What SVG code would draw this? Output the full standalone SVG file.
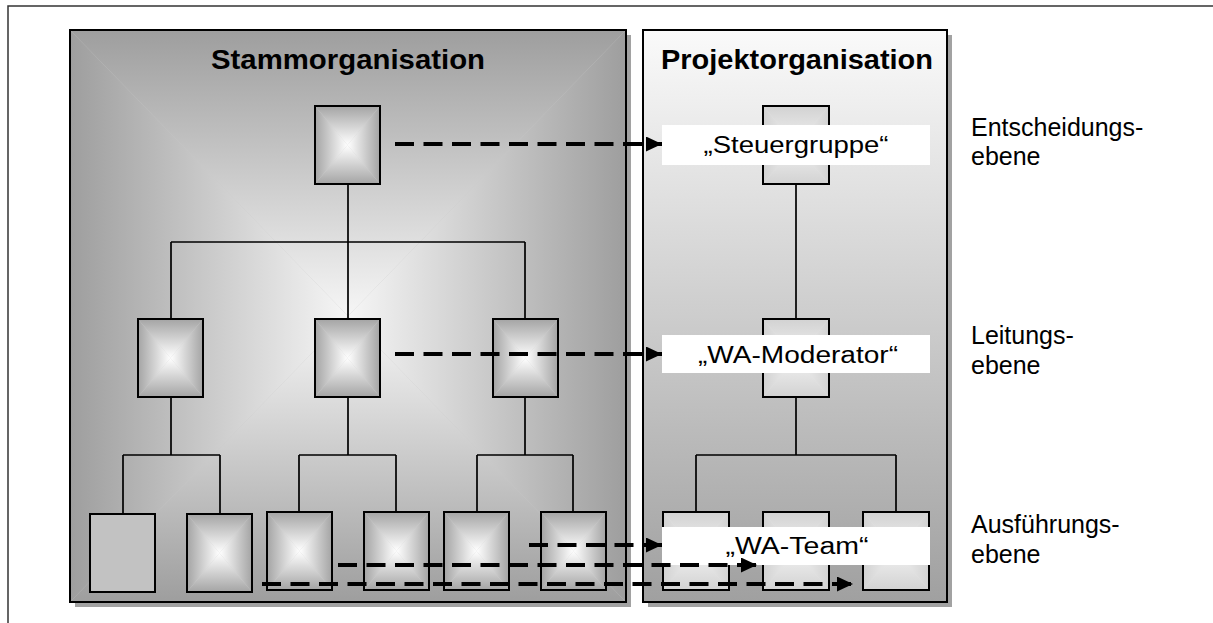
<svg xmlns="http://www.w3.org/2000/svg" xmlns:xlink="http://www.w3.org/1999/xlink" width="1213" height="623" viewBox="0 0 1213 623">
  <style>
    .frame { fill: none; stroke: #333; stroke-width: 1.5; }
    .shadow { fill: #a2a2a2; }
    .panel { fill: none; stroke: #000; stroke-width: 2; }
    .nb { fill: none; stroke: #000; stroke-width: 2; }
    .tree { fill: none; stroke: #000; stroke-width: 1.7; }
    .flow { fill: none; stroke: #000; stroke-width: 4; stroke-dasharray: 19 9.5; marker-end: url(#head); }
    .title { font-family: "Liberation Sans", Arial, sans-serif; font-weight: bold; font-size: 28px; fill: #000; text-anchor: middle; }
    .tag { fill: #fff; }
    .tagtext { font-family: "Liberation Sans", Arial, sans-serif; font-size: 23px; fill: #000; text-anchor: middle; }
    .level { font-family: "Liberation Sans", Arial, sans-serif; font-size: 25px; fill: #000; }
  </style>
  <defs>
    <!-- four-sided "from centre" shading: edge colour at the border, light at the middle -->
    <linearGradient id="bT" x1="0" y1="0" x2="0" y2="1"><stop offset="0" stop-color="#a4a4a4"/><stop offset="1" stop-color="#ffffff"/></linearGradient>
    <linearGradient id="bB" x1="0" y1="1" x2="0" y2="0"><stop offset="0" stop-color="#a4a4a4"/><stop offset="1" stop-color="#ffffff"/></linearGradient>
    <linearGradient id="bL" x1="0" y1="0" x2="1" y2="0"><stop offset="0" stop-color="#a4a4a4"/><stop offset="1" stop-color="#ffffff"/></linearGradient>
    <linearGradient id="bR" x1="1" y1="0" x2="0" y2="0"><stop offset="0" stop-color="#a4a4a4"/><stop offset="1" stop-color="#ffffff"/></linearGradient>

    <linearGradient id="lT" x1="0" y1="0" x2="0" y2="1"><stop offset="0" stop-color="#d2d2d2"/><stop offset="1" stop-color="#f2f2f2"/></linearGradient>
    <linearGradient id="lB" x1="0" y1="1" x2="0" y2="0"><stop offset="0" stop-color="#d2d2d2"/><stop offset="1" stop-color="#f2f2f2"/></linearGradient>
    <linearGradient id="lL" x1="0" y1="0" x2="1" y2="0"><stop offset="0" stop-color="#d2d2d2"/><stop offset="1" stop-color="#f2f2f2"/></linearGradient>
    <linearGradient id="lR" x1="1" y1="0" x2="0" y2="0"><stop offset="0" stop-color="#d2d2d2"/><stop offset="1" stop-color="#f2f2f2"/></linearGradient>

    <linearGradient id="pT" x1="0" y1="0" x2="0" y2="1"><stop offset="0" stop-color="#9e9e9e"/><stop offset="1" stop-color="#f6f6f6"/></linearGradient>
    <linearGradient id="pB" x1="0" y1="1" x2="0" y2="0"><stop offset="0" stop-color="#9e9e9e"/><stop offset="1" stop-color="#f6f6f6"/></linearGradient>
    <linearGradient id="pL" x1="0" y1="0" x2="1" y2="0"><stop offset="0" stop-color="#9e9e9e"/><stop offset="1" stop-color="#f6f6f6"/></linearGradient>
    <linearGradient id="pR" x1="1" y1="0" x2="0" y2="0"><stop offset="0" stop-color="#9e9e9e"/><stop offset="1" stop-color="#f6f6f6"/></linearGradient>

    <linearGradient id="projFill" x1="0" y1="0" x2="0" y2="1">
      <stop offset="0" stop-color="#fafafa"/>
      <stop offset="1" stop-color="#a0a0a0"/>
    </linearGradient>

    <symbol id="shade" viewBox="0 0 100 100" preserveAspectRatio="none">
      <rect width="100" height="100" fill="#d0d0d0"/>
      <polygon points="0,0 100,0 50,50" fill="url(#bT)"/>
      <polygon points="100,0 100,100 50,50" fill="url(#bR)"/>
      <polygon points="0,100 100,100 50,50" fill="url(#bB)"/>
      <polygon points="0,0 0,100 50,50" fill="url(#bL)"/>
    </symbol>
    <symbol id="shadeLight" viewBox="0 0 100 100" preserveAspectRatio="none">
      <rect width="100" height="100" fill="#e2e2e2"/>
      <polygon points="0,0 100,0 50,50" fill="url(#lT)"/>
      <polygon points="100,0 100,100 50,50" fill="url(#lR)"/>
      <polygon points="0,100 100,100 50,50" fill="url(#lB)"/>
      <polygon points="0,0 0,100 50,50" fill="url(#lL)"/>
    </symbol>
    <symbol id="shadePanel" viewBox="0 0 100 100" preserveAspectRatio="none">
      <rect width="100" height="100" fill="#c8c8c8"/>
      <polygon points="0,0 100,0 50,50" fill="url(#pT)"/>
      <polygon points="100,0 100,100 50,50" fill="url(#pR)"/>
      <polygon points="0,100 100,100 50,50" fill="url(#pB)"/>
      <polygon points="0,0 0,100 50,50" fill="url(#pL)"/>
    </symbol>

    <marker id="head" viewBox="0 0 16 15" markerWidth="16" markerHeight="15" refX="16" refY="7.5" markerUnits="userSpaceOnUse" orient="auto">
      <path d="M0,0 L16,7.5 L0,15 z" fill="#000"/>
    </marker>
  </defs>

  <rect width="1213" height="623" fill="#fff"/>
  <!-- outer frame -->
  <path class="frame" d="M8,623 V6 H1213"/>

  <!-- parent organisation panel -->
  <g id="stammorganisation">
    <rect class="shadow" x="75" y="35" width="556" height="572"/>
    <use xlink:href="#shadePanel" x="70" y="30" width="556" height="572"/>
    <rect class="panel" x="70" y="30" width="556" height="572"/>
    <text class="title" x="348" y="69" textLength="274" lengthAdjust="spacingAndGlyphs">Stammorganisation</text>
  </g>

  <!-- project organisation panel -->
  <g id="projektorganisation">
    <rect class="shadow" x="648" y="35" width="304" height="572"/>
    <rect x="643" y="30" width="304" height="572" fill="url(#projFill)"/>
    <rect class="panel" x="643" y="30" width="304" height="572"/>
    <text class="title" x="797" y="69" textLength="272" lengthAdjust="spacingAndGlyphs">Projektorganisation</text>
  </g>

  <!-- tree lines -->
  <g id="tree-lines" class="tree">
    <path d="M348,184 V319 M171,242 H525 M171,242 V319 M525,242 V319"/>
    <path d="M171,397 V455 M123,455 H220 M123,455 V514 M220,455 V514"/>
    <path d="M348,397 V455 M299,455 H396 M299,455 V512 M396,455 V512"/>
    <path d="M525,397 V455 M477,455 H573 M477,455 V512 M573,455 V512"/>
    <path d="M796,184 V319 M796,397 V455 M696,455 H896 M696,455 V512 M896,455 V512"/>
  </g>

  <!-- parent organisation units -->
  <g id="s-top"><use xlink:href="#shade" x="315" y="106" width="65" height="78"/><rect class="nb" x="315" y="106" width="65" height="78"/></g>
  <g id="s-l2a"><use xlink:href="#shade" x="138" y="319" width="65" height="78"/><rect class="nb" x="138" y="319" width="65" height="78"/></g>
  <g id="s-l2b"><use xlink:href="#shade" x="315" y="319" width="65" height="78"/><rect class="nb" x="315" y="319" width="65" height="78"/></g>
  <g id="s-l2c"><use xlink:href="#shade" x="493" y="319" width="65" height="78"/><rect class="nb" x="493" y="319" width="65" height="78"/></g>
  <g id="s-l3a"><rect x="90" y="514" width="65" height="78" fill="#c2c2c2"/><rect class="nb" x="90" y="514" width="65" height="78"/></g>
  <g id="s-l3b"><use xlink:href="#shade" x="187" y="514" width="65" height="78"/><rect class="nb" x="187" y="514" width="65" height="78"/></g>
  <g id="s-l3c"><use xlink:href="#shade" x="267" y="512" width="65" height="78"/><rect class="nb" x="267" y="512" width="65" height="78"/></g>
  <g id="s-l3d"><use xlink:href="#shade" x="364" y="512" width="65" height="78"/><rect class="nb" x="364" y="512" width="65" height="78"/></g>
  <g id="s-l3e"><use xlink:href="#shade" x="444" y="512" width="65" height="78"/><rect class="nb" x="444" y="512" width="65" height="78"/></g>
  <g id="s-l3f"><use xlink:href="#shade" x="541" y="512" width="65" height="78"/><rect class="nb" x="541" y="512" width="65" height="78"/></g>

  <!-- project organisation units -->
  <g id="p-top"><use xlink:href="#shadeLight" x="763" y="106" width="66" height="78"/><rect class="nb" x="763" y="106" width="66" height="78"/></g>
  <g id="p-lead"><use xlink:href="#shadeLight" x="763" y="319" width="66" height="78"/><rect class="nb" x="763" y="319" width="66" height="78"/></g>
  <g id="p-team1"><use xlink:href="#shadeLight" x="663" y="512" width="66" height="78"/><rect class="nb" x="663" y="512" width="66" height="78"/></g>
  <g id="p-team2"><use xlink:href="#shadeLight" x="763" y="512" width="66" height="78"/><rect class="nb" x="763" y="512" width="66" height="78"/></g>
  <g id="p-team3"><use xlink:href="#shadeLight" x="863" y="512" width="66" height="78"/><rect class="nb" x="863" y="512" width="66" height="78"/></g>

  <!-- role labels -->
  <g id="label-steuergruppe">
    <rect class="tag" x="662" y="125" width="268" height="40"/>
    <text class="tagtext" x="796" y="153" textLength="185" lengthAdjust="spacingAndGlyphs">„Steuergruppe“</text>
  </g>
  <g id="label-moderator">
    <rect class="tag" x="662" y="335" width="268" height="38"/>
    <text class="tagtext" x="798" y="363" textLength="200" lengthAdjust="spacingAndGlyphs">„WA-Moderator“</text>
  </g>
  <g id="label-team">
    <rect class="tag" x="662" y="527" width="268" height="38"/>
    <text class="tagtext" x="797" y="554" textLength="143" lengthAdjust="spacingAndGlyphs">„WA-Team“</text>
  </g>

  <!-- assignment arrows -->
  <g id="connectors">
    <line class="flow" x1="395" y1="144" x2="662" y2="144"/>
    <line class="flow" x1="395" y1="354" x2="662" y2="354"/>
    <line class="flow" x1="529" y1="545" x2="662" y2="545"/>
    <line class="flow" x1="338" y1="565" x2="757" y2="565"/>
    <line class="flow" x1="262" y1="584" x2="853" y2="584"/>
  </g>

  <!-- level captions -->
  <g id="levels" class="level">
    <text x="971" y="136">Entscheidungs-</text>
    <text x="971" y="165">ebene</text>
    <text x="971" y="344">Leitungs-</text>
    <text x="971" y="374">ebene</text>
    <text x="971" y="533">Ausführungs-</text>
    <text x="971" y="563">ebene</text>
  </g>
</svg>
